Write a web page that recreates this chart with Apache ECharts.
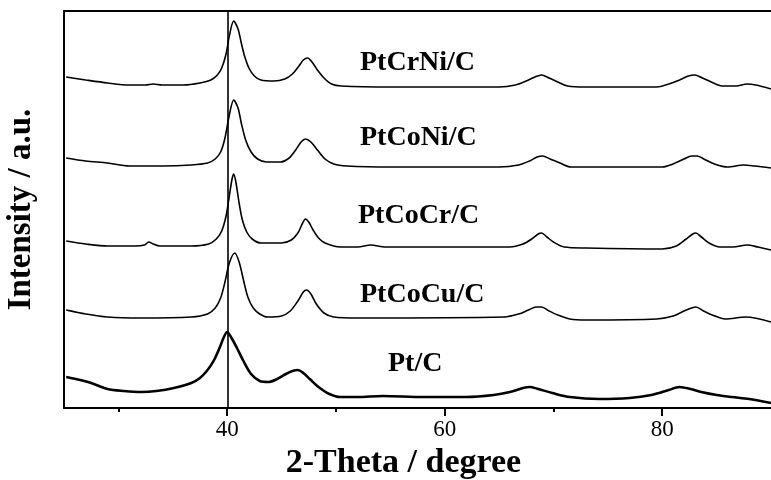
<!DOCTYPE html>
<html>
<head>
<meta charset="utf-8">
<script src="https://cdn.jsdelivr.net/npm/echarts@6/dist/echarts.min.js"></script>
<style>
  html, body { margin: 0; padding: 0; background: #fff; }
  #main { width: 771px; height: 480px; }
</style>
</head>
<body>
<div id="main"></div>
<script>
// XRD patterns (intensity in arbitrary units, stacked)
const thetaCrNi = [25.2, 27, 29, 31, 32.5, 33.2, 34, 36, 37.5, 38.5, 39.1, 39.5, 39.9, 40.2, 40.6, 41.0, 41.3, 41.6, 42.0, 42.5, 43.1, 44.3, 45.3, 46.0, 46.6, 47.0, 47.4, 47.8, 48.3, 48.9, 49.6, 50.5, 55, 65, 66.5, 67.5, 68.3, 68.9, 69.6, 70.4, 71.3, 73, 79.5, 80.6, 81.6, 82.4, 83.0, 83.7, 84.5, 85.5, 86.8, 87.8, 88.6, 90];
const intCrNi   = [331, 328, 325, 323, 323, 324, 323, 323, 325, 328, 333, 340, 354, 372, 387, 379, 365, 352, 340, 332, 328, 327, 329, 334, 342, 348, 350, 346, 338, 330, 324, 322, 321, 321, 323, 327, 331, 333, 330, 326, 322, 321, 321, 324, 328, 332, 333, 330, 326, 322, 322, 324, 323, 319];

const thetaCoNi = [25.2, 27, 29, 31, 34, 36.7, 38.2, 38.9, 39.4, 39.8, 40.2, 40.6, 41.0, 41.3, 41.7, 42.2, 42.8, 43.6, 44.9, 45.7, 46.3, 46.8, 47.2, 47.7, 48.3, 49.0, 49.8, 51, 55, 65, 66.8, 67.8, 68.5, 69.0, 69.7, 70.6, 71.6, 73, 80, 81, 82, 82.7, 83.2, 84, 84.8, 86, 87.5, 88.5, 90];
const intCoNi   = [250, 247, 245, 242, 242, 243, 245, 249, 256, 270, 293, 308, 300, 285, 268, 256, 249, 246, 246, 250, 258, 266, 269, 266, 258, 249, 244, 242, 241, 241, 243, 247, 251, 252, 249, 245, 241, 241, 241, 244, 249, 252, 252, 248, 244, 241, 243, 242, 240];

const thetaCoCr = [25.2, 27, 29, 31.5, 32.4, 32.8, 33.2, 33.8, 36.7, 38.3, 39.0, 39.5, 39.9, 40.2, 40.45, 40.6, 40.8, 41.1, 41.4, 41.8, 42.3, 43.1, 45, 45.9, 46.5, 46.9, 47.2, 47.5, 47.9, 48.4, 49.0, 50.4, 52, 53.2, 54.5, 66, 67.2, 68.0, 68.6, 68.9, 69.4, 70.0, 71.0, 73, 80, 81.3, 82.2, 82.8, 83.1, 83.6, 84.3, 85.3, 86.5, 87.8, 88.8, 90];
const intCoCr   = [167, 164, 162, 162, 163, 166, 164, 162, 162, 164, 169, 177, 192, 212, 229, 234, 226, 205, 188, 176, 169, 165, 165, 168, 175, 184, 189, 186, 178, 170, 165, 161, 161, 163, 161, 161, 164, 169, 174, 175, 171, 166, 161, 160, 159, 162, 169, 174, 175, 171, 165, 161, 161, 163, 161, 158];

const thetaCoCu = [25.2, 27, 29, 32, 36.7, 38.2, 38.9, 39.4, 39.8, 40.2, 40.7, 41.1, 41.5, 41.9, 42.4, 43.0, 43.7, 45.0, 45.8, 46.5, 47.0, 47.3, 47.7, 48.2, 48.9, 49.8, 52, 65.5, 66.8, 67.7, 68.4, 68.9, 69.6, 70.4, 71.5, 73, 79.5, 81, 82.0, 82.7, 83.1, 83.8, 84.6, 85.8, 87.7, 90];
const intCoCu   = [98, 94, 91, 90, 91, 94, 100, 110, 126, 145, 155, 146, 128, 111, 100, 94, 91, 92, 97, 107, 116, 118, 114, 104, 95, 91, 90, 91, 94, 98, 101, 101, 97, 93, 89, 88, 89, 92, 97, 100, 101, 97, 93, 89, 91, 86];

const thetaPt = [25.2, 26.5, 27.5, 29, 30.5, 32.1, 33.5, 35.1, 36.7, 37.5, 38.2, 38.8, 39.3, 39.7, 40.0, 40.4, 40.9, 41.5, 42.2, 43.0, 43.8, 44.6, 45.4, 46.0, 46.5, 47.0, 47.6, 48.4, 49.4, 50.4, 52, 54.3, 58, 62, 64.5, 66, 67.2, 67.8, 68.6, 69.9, 71.5, 74.2, 77, 79, 80.6, 81.6, 82.6, 83.6, 85, 86.4, 88, 90];
const intPt   = [31, 28, 25, 19, 17, 16, 17, 20, 25, 30, 38, 48, 60, 71, 76, 70, 60, 47, 34, 27, 26, 29, 34, 37, 38, 35, 29, 21, 14, 11, 11, 12, 11, 11, 13, 16, 20, 21, 19, 15, 11, 9, 10, 13, 18, 21, 19, 16, 13, 11, 9, 5];

const majorTicks = [40, 60, 80];
const minorTicks = [30, 50, 70];
const sampleNames = ['PtCrNi/C', 'PtCoNi/C', 'PtCoCr/C', 'PtCoCu/C', 'Pt/C'];

const zip = (xs, ys) => xs.map((x, i) => [x, ys[i]]);
const serif = '"Liberation Serif", "DejaVu Serif", serif';

const chart = echarts.init(document.getElementById('main'));

const line = (name, xs, ys, width) => ({
  name: name,
  type: 'line',
  data: zip(xs, ys),
  showSymbol: false,
  smooth: 0.3,
  lineStyle: { color: '#000', width: width },
  animation: false
});

const labelText = (text, x, y) => ({
  type: 'text',
  left: x,
  top: y,
  style: {
    text: text,
    font: 'bold 28px ' + serif,
    fill: '#000'
  }
});

const series = [
  line(sampleNames[0], thetaCrNi, intCrNi, 1.6),
  line(sampleNames[1], thetaCoNi, intCoNi, 1.6),
  line(sampleNames[2], thetaCoCr, intCoCr, 1.6),
  line(sampleNames[3], thetaCoCu, intCoCu, 1.6),
  line(sampleNames[4], thetaPt, intPt, 2.6)
];
// reference line at 2θ = 40
series[0].markLine = {
  silent: true,
  symbol: 'none',
  label: { show: false },
  lineStyle: { color: '#000', type: 'solid', width: 1.6 },
  data: [{ xAxis: 40.1 }],
  animation: false
};

chart.setOption({
  backgroundColor: '#fff',
  grid: { left: 64, right: 0, top: 11, bottom: 72, outerBoundsMode: 'none' },
  xAxis: [
    {
      type: 'value', min: 25, max: 90,
      name: '2-Theta / degree',
      nameLocation: 'middle',
      nameGap: 34,
      nameTextStyle: { fontFamily: serif, fontWeight: 'bold', fontSize: 34, color: '#000', padding: [0, 28, 0, 0] },
      splitLine: { show: false },
      axisLine: { lineStyle: { color: '#000', width: 2 } },
      axisTick: { customValues: majorTicks, length: 8, lineStyle: { color: '#000', width: 2 } },
      axisLabel: { customValues: majorTicks, margin: 10, fontFamily: serif, fontSize: 23, color: '#000' }
    },
    {
      type: 'value', min: 25, max: 90, position: 'bottom',
      splitLine: { show: false },
      axisLine: { show: false },
      axisTick: { customValues: minorTicks, length: 4, lineStyle: { color: '#000', width: 2 } },
      axisLabel: { show: false }
    },
    {
      type: 'value', min: 25, max: 90, position: 'top',
      splitLine: { show: false },
      axisLine: { lineStyle: { color: '#000', width: 2 } },
      axisTick: { show: false },
      axisLabel: { show: false }
    }
  ],
  yAxis: {
    type: 'value', min: 0, max: 397,
    name: 'Intensity / a.u.',
    nameLocation: 'middle',
    nameGap: 26,
    nameTextStyle: { fontFamily: serif, fontWeight: 'bold', fontSize: 33, color: '#000' },
    splitLine: { show: false },
    axisLine: { show: true, lineStyle: { color: '#000', width: 2 } },
    axisTick: { show: false },
    axisLabel: { show: false }
  },
  graphic: [
    labelText(sampleNames[0], 360, 49),
    labelText(sampleNames[1], 360, 124),
    labelText(sampleNames[2], 358, 202),
    labelText(sampleNames[3], 360, 281),
    labelText(sampleNames[4], 388, 350)
  ],
  series: series
});
</script>
</body>
</html>
